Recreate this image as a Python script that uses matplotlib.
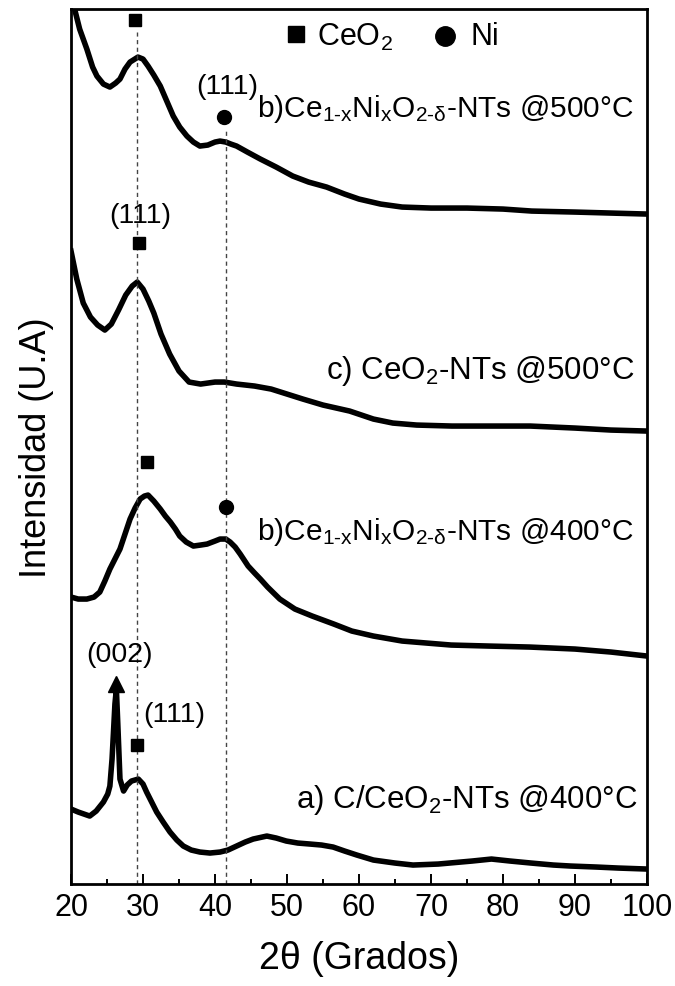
import matplotlib
matplotlib.use('Agg')
import matplotlib.pyplot as plt

#-------------------------------------------------------------------------------
# CONFIG

plt.rcParams['font.family'] = ['Liberation Sans', 'DejaVu Sans']
plt.rcParams['mathtext.fontset'] = 'custom'
plt.rcParams['mathtext.rm'] = 'Liberation Sans'
plt.rcParams['mathtext.it'] = 'Liberation Sans'

#-------------------------------------------------------------------------------
# DATA (2theta in degrees, intensity in arbitrary units incl. vertical offset)

#b) Ce1-xNixO2-d NTs @500C
tt_b500 = [20, 20.5, 21.2, 22.2, 23, 23.6, 24.5, 25.4, 26.2, 26.8, 27.5, 28.2,
           29.3, 30, 30.7, 31.5, 32.4, 33.3, 34.2, 35.1, 36.1, 37, 37.9, 39,
           40, 40.7, 41.5, 42.2, 43, 44.5, 46.3, 48.5, 50.8, 53, 55.5, 58, 60,
           63, 66, 70, 75, 80, 84, 90, 95, 100]
I_b500 = [890, 875, 855, 835, 817, 808, 800, 797, 801, 805, 815, 822,
          827, 825, 818, 809, 798, 783, 768, 757, 748, 742, 738, 739,
          742, 743, 742, 740, 738, 732, 725, 717, 708, 702, 697, 690, 685,
          680, 677, 676, 676, 675, 673, 672, 671, 670]

#c) CeO2 NTs @500C
tt_c500 = [20, 20.8, 21.7, 22.7, 23.7, 24.7, 25.6, 26.6, 27.6, 28.5, 29.2, 30,
           30.8, 31.5, 32.5, 33.7, 35, 36.4, 38, 40, 41.3, 43, 45.5, 47.8, 50,
           52.2, 55, 58.7, 62, 64.7, 68, 72.9, 78, 83.8, 90, 95, 100]
I_c500 = [633, 605, 581, 567, 559, 554, 560, 574, 589, 598, 602, 595,
          583, 571, 550, 530, 513, 502, 500, 502, 502, 500, 498, 495, 490,
          485, 479, 473, 465, 461, 459, 458, 458, 458, 456, 454, 453]

#b) Ce1-xNixO2-d NTs @400C
tt_b400 = [20, 21, 22.2, 23.2, 24, 24.7, 25.4, 26.1, 26.8, 27.5, 28.2, 28.9,
           29.6, 30.2, 30.7, 31.5, 32.4, 33.1, 33.8, 34.5, 35.1, 36, 37, 38,
           38.9, 40, 40.7, 41.5, 42.1, 42.8, 43.5, 44.6, 45.5, 46.3, 47.3, 49,
           51.1, 53.5, 56.5, 59, 62, 66, 72.8, 78, 83.7, 90, 95, 100]
I_b400 = [287, 285, 285, 287, 292, 303, 315, 325, 335, 350, 365, 376,
          385, 388, 389, 383, 375, 368, 362, 355, 348, 342, 338, 339,
          340, 343, 345, 345, 342, 337, 330, 318, 311, 305, 297, 285,
          275, 268, 260, 253, 248, 243, 239, 238, 237, 235, 232, 228]

#a) C/CeO2 NTs @400C
tt_a400 = [20, 21, 22.6, 23.5, 24.5, 25.1, 25.4, 25.7, 25.9, 26.1, 26.3, 26.5,
           26.8, 27.3, 27.8, 28.4, 29.35, 30, 30.5, 31.2, 31.9, 32.8, 33.75,
           34.7, 35.6, 36.7, 37.9, 39.3, 40.7, 41.8, 43, 44.2, 45.3, 47.2,
           48.5, 49.9, 51.5, 53.2, 54.8, 56.4, 58, 59.7, 62, 65, 67.5, 71,
           75.7, 78.4, 81, 83.9, 87, 89.4, 93, 96, 100]
I_a400 = [75, 72, 68, 73, 82, 90, 98, 125, 152, 180, 195, 160,
          105, 93, 99, 103, 105, 100, 92, 82, 72, 62, 52,
          44, 38, 34, 32, 31, 32, 34, 38, 42, 45, 48,
          46, 43, 41, 40, 39, 37, 33, 29, 24, 21, 19, 20,
          23, 25, 23, 21, 19, 18, 17, 16, 15]

#phase markers
ceo2_tt = [28.9, 29.4, 30.6, 29.2]
ceo2_I = [864, 641, 422, 139]
ni_tt = [41.3, 41.5]
ni_I = [767, 377]
c_tt, c_I = 26.2, 200

#reference lines
ref_tt = [29.2, 41.5]
ref_top = [852, 755]

#sample labels
labels = [r'b)Ce$_{\mathrm{1\text{-}x}}$Ni$_{\mathrm{x}}$O$_{\mathrm{2\text{-}\delta}}$-NTs @500°C',
          r'c) CeO$_{\mathrm{2}}$-NTs @500°C',
          r'b)Ce$_{\mathrm{1\text{-}x}}$Ni$_{\mathrm{x}}$O$_{\mathrm{2\text{-}\delta}}$-NTs @400°C',
          r'a) C/CeO$_{\mathrm{2}}$-NTs @400°C']
label_tt = [98.1, 98.3, 98.1, 98.6]
label_I = [768, 506, 345, 77]
label_fs = [21.5, 22.5, 21.5, 22.5]

#hkl labels
hkl = ['(111)', '(111)', '(111)', '(002)']
hkl_tt = [41.7, 29.6, 34.3, 26.8]
hkl_I = [798, 669, 170, 230]

#-------------------------------------------------------------------------------
# MAIN

fig = plt.figure(figsize=(6.75, 9.87), dpi=100)
ax = fig.add_axes([0.1052, 0.1033, 0.8533, 0.8865])

ymax = 875
for tt, I in [(tt_b500, I_b500), (tt_c500, I_c500), (tt_b400, I_b400), (tt_a400, I_a400)]:
    ax.plot(tt, I, color='k', lw=4, solid_joinstyle='round')

for x, top in zip(ref_tt, ref_top):
    ax.axvline(x, 0, top/ymax, color='#444444', lw=1, dashes=(3, 2.5))

ax.plot(ceo2_tt, ceo2_I, 's', color='k', ms=8.5, ls='none')
ax.plot(ni_tt, ni_I, 'o', color='k', ms=10, ls='none')
ax.plot(c_tt, c_I, '^', color='k', ms=12, ls='none')

#legend drawn as in the original
ax.plot(51.25, 850, 's', color='k', ms=12)
ax.text(54.1, 848, r'CeO$_{\mathrm{2}}$', fontsize=22, va='center', ha='left')
ax.plot(71.9, 848, 'o', color='k', ms=14)
ax.text(75.5, 848, 'Ni', fontsize=22, va='center', ha='left')

for s, x, y, fs in zip(labels, label_tt, label_I, label_fs):
    ax.text(x, y, s, fontsize=fs, ha='right', va='baseline')
for s, x, y in zip(hkl, hkl_tt, hkl_I):
    ax.text(x, y, s, fontsize=20.5, ha='center', va='center')

ax.set_xlim(20, 100)
ax.set_ylim(0, ymax)
ax.set_xticks(range(20, 101, 10))
ax.set_xticks(range(25, 100, 10), minor=True)
ax.set_yticks([])
ax.tick_params(axis='x', which='major', direction='in', length=7.5, width=1.4,
               labelsize=22, pad=6)
ax.tick_params(axis='x', which='minor', direction='in', length=3.8, width=1.4)
for sp in ax.spines.values():
    sp.set_linewidth(2)

ax.set_xlabel('2θ (Grados)', fontsize=27, labelpad=13)
ax.set_ylabel('Intensidad (U.A)', fontsize=26, labelpad=12)

fig.savefig('out.png', dpi=100)
